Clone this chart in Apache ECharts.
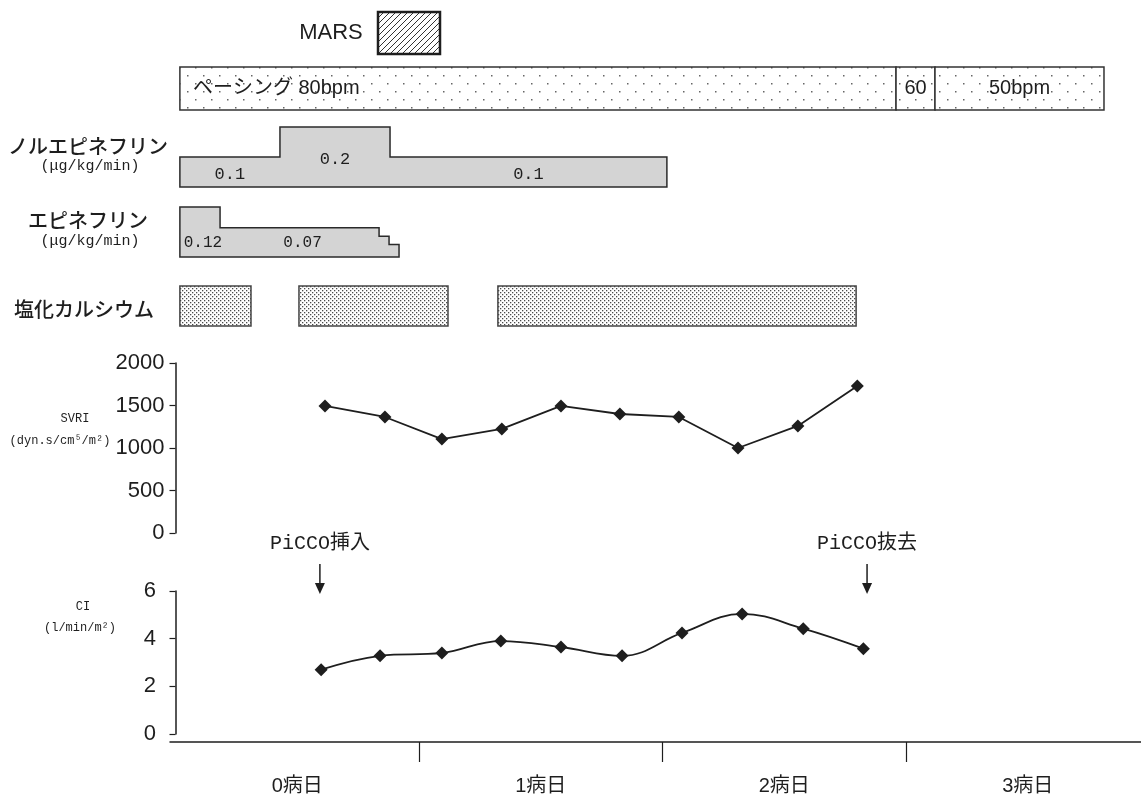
<!DOCTYPE html>
<html>
<head>
<meta charset="utf-8">
<script src="https://cdn.jsdelivr.net/npm/echarts@6/dist/echarts.min.js"></script>
<style>
  html, body { margin:0; padding:0; background:#fff; }
  #main { width:1141px; height:801px; }
</style>
</head>
<body>
<div id="main"></div>
<script>
// time in days (0 = start of 0病日)
var dayLabels = ['0病日', '1病日', '2病日', '3病日'];
var dayTicks = [1, 2, 3];

// pacing
var pacingStart = [0.018, 2.959, 3.119];
var pacingEnd = [2.959, 3.119, 3.813];
var pacingLabel = ['ペーシング 80bpm', '60', '50bpm'];

// noradrenaline (μg/kg/min)
var norStart = [0.018, 0.429, 0.881];
var norDose = [0.1, 0.2, 0.1];
var norStop = 2.018;
var norLabel = ['0.1', '0.2', '0.1'];

// adrenaline (μg/kg/min)
var epiStart = [0.018, 0.183, 0.836, 0.877];
var epiDose = [0.12, 0.07, 0.05, 0.03];
var epiStop = 0.918;
var epiLabel = ['0.12', '0.07', '', ''];

// calcium chloride
var caStart = [0.018, 0.507, 1.324];
var caEnd = [0.310, 1.119, 2.795];

// SVRI
var svriT = [0.614, 0.860, 1.094, 1.340, 1.583, 1.825, 2.067, 2.310, 2.556, 2.800];
var svri = [1495, 1365, 1105, 1225, 1495, 1400, 1365, 1000, 1260, 1730];

// CI
var ciT = [0.598, 0.840, 1.094, 1.336, 1.583, 1.834, 2.080, 2.327, 2.578, 2.825];
var ci = [2.7, 3.28, 3.4, 3.9, 3.65, 3.28, 4.24, 5.04, 4.42, 3.58];

// PiCCO events
var piccoT = [0.593, 2.840];
var piccoLabel = ['PiCCO挿入', 'PiCCO抜去'];

var JP = "'Noto Sans CJK JP', sans-serif";
var SANS = "'Liberation Sans', 'Noto Sans CJK JP', sans-serif";
var MONO = "'Liberation Mono', 'DejaVu Sans Mono', 'Noto Sans CJK JP', monospace";
var INK = '#1e1e1e';

function makePattern(size, draw) {
  var c = document.createElement('canvas');
  c.width = size; c.height = size;
  var ctx = c.getContext('2d');
  ctx.fillStyle = '#fff';
  ctx.fillRect(0, 0, size, size);
  draw(ctx);
  return { image: c, repeat: 'repeat' };
}
var sparseDots = makePattern(16, function (ctx) {
  ctx.fillStyle = '#666';
  ctx.fillRect(3, 3, 1.5, 1.5);
  ctx.fillRect(11, 11, 1.5, 1.5);
});
var denseDots = makePattern(4, function (ctx) {
  ctx.fillStyle = '#4a4a4a';
  ctx.fillRect(0, 0, 1.3, 1.3);
  ctx.fillRect(2, 2, 1.3, 1.3);
});
var hatch = makePattern(6, function (ctx) {
  ctx.strokeStyle = '#333';
  ctx.lineWidth = 1;
  ctx.beginPath();
  ctx.moveTo(0, 6); ctx.lineTo(6, 0);
  ctx.moveTo(-1, 1); ctx.lineTo(1, -1);
  ctx.moveTo(5, 7); ctx.lineTo(7, 5);
  ctx.stroke();
});

function txt(x, y, text, font, align) {
  return {
    type: 'text', x: x, y: y, silent: true,
    style: { text: text, font: font, fill: INK, align: align || 'center', verticalAlign: 'middle',
             textAlign: align || 'center', textVerticalAlign: 'middle' }
  };
}

function stepPolygon(api, starts, doses, stop) {
  var pts = [];
  for (var i = 0; i < starts.length; i++) {
    var e = i < starts.length - 1 ? starts[i + 1] : stop;
    pts.push(api.coord([starts[i], doses[i]]));
    pts.push(api.coord([e, doses[i]]));
  }
  pts.push(api.coord([stop, 0]));
  pts.push(api.coord([starts[0], 0]));
  return pts;
}

var XMAX = 3.965;
var hiddenX = function (g) {
  return { type: 'value', gridIndex: g, min: 0, max: XMAX, show: false };
};
var hiddenY = function (g, max) {
  return { type: 'value', gridIndex: g, min: 0, max: max, show: false };
};
function grid(top, height, left) {
  return { left: left || 175.5, right: 0, top: top, height: height,
           outerBoundsMode: 'none', containLabel: false };
}
var plainNum = function (v) { return String(v); };

var chart = echarts.init(document.getElementById('main'), null, { renderer: 'canvas' });

var option = {
  backgroundColor: '#fff',
  animation: false,
  grid: [
    grid(67, 43),      // pacing
    grid(127, 60),     // noradrenaline
    grid(207, 50),     // adrenaline
    grid(286, 40),     // calcium
    grid(363, 170),    // SVRI
    grid(591, 143, 170) // CI
  ],
  xAxis: [
    hiddenX(0), hiddenX(1), hiddenX(2), hiddenX(3), hiddenX(4),
    {
      type: 'value', gridIndex: 5, min: -0.0226, max: XMAX, offset: 8,
      axisLine: { show: true, onZero: false, lineStyle: { color: INK, width: 1.5 } },
      axisTick: { show: true, length: 20, customValues: dayTicks, lineStyle: { color: INK, width: 1.2 } },
      axisLabel: {
        customValues: [0.5, 1.5, 2.5, 3.5], margin: 34,
        formatter: function (v) { return dayLabels[Math.floor(v)]; },
        color: INK, fontSize: 20, fontFamily: SANS
      },
      splitLine: { show: false }
    }
  ],
  yAxis: [
    hiddenY(0, 1), hiddenY(1, 0.2), hiddenY(2, 0.12), hiddenY(3, 1),
    {
      type: 'value', gridIndex: 4, min: 0, max: 2000, interval: 500,
      axisLine: { show: true, lineStyle: { color: INK, width: 1.5 } },
      axisTick: { show: true, length: 6, lineStyle: { color: INK, width: 1.2 } },
      axisLabel: { color: INK, fontSize: 22, fontFamily: SANS, margin: 11, formatter: plainNum },
      splitLine: { show: false }
    },
    {
      type: 'value', gridIndex: 5, min: 0, max: 6, interval: 2,
      axisLine: { show: true, lineStyle: { color: INK, width: 1.5 } },
      axisTick: { show: true, length: 6, lineStyle: { color: INK, width: 1.2 } },
      axisLabel: { color: INK, fontSize: 22, fontFamily: SANS, margin: 14, formatter: plainNum },
      splitLine: { show: false }
    }
  ],
  graphic: [
    txt(331, 33, 'MARS', '22px ' + SANS),
    { type: 'rect', shape: { x: 378, y: 12, width: 62, height: 42 },
      style: { fill: hatch, stroke: INK, lineWidth: 2.5 } },
    txt(88, 146, 'ノルエピネフリン', '500 20px ' + JP),
    txt(90, 166, '(μg/kg/min)', '15px ' + MONO),
    txt(88, 220, 'エピネフリン', '500 20px ' + JP),
    txt(90, 241, '(μg/kg/min)', '15px ' + MONO),
    txt(84, 309, '塩化カルシウム', '500 20px ' + JP),
    txt(75, 419, 'SVRI', '12px ' + MONO),
    txt(60, 441, '(dyn.s/cm⁵/m²)', '12px ' + MONO),
    txt(83, 607, 'CI', '12px ' + MONO),
    txt(80, 628, '(l/min/m²)', '12px ' + MONO)
  ],
  series: [
    {
      type: 'custom', xAxisIndex: 0, yAxisIndex: 0,
      data: pacingStart.map(function (s, i) { return [s, pacingEnd[i], i]; }),
      renderItem: function (params, api) {
        var i = api.value(2);
        var a = api.coord([api.value(0), 1]);
        var b = api.coord([api.value(1), 0]);
        var left = i === 0;
        return {
          type: 'group',
          children: [
            { type: 'rect', shape: { x: a[0], y: a[1], width: b[0] - a[0], height: b[1] - a[1] },
              style: { fill: sparseDots, stroke: '#333', lineWidth: 1.5 } },
            { type: 'text', x: left ? a[0] + 13 : (a[0] + b[0]) / 2, y: (a[1] + b[1]) / 2,
              style: { text: pacingLabel[i], font: '20px ' + SANS, fill: INK,
                       align: left ? 'left' : 'center', verticalAlign: 'middle',
                       textAlign: left ? 'left' : 'center', textVerticalAlign: 'middle' } }
          ]
        };
      }
    },
    {
      type: 'custom', xAxisIndex: 1, yAxisIndex: 1,
      data: norStart.map(function (s, i) { return [s, norDose[i], i]; }),
      renderItem: function (params, api) {
        var i = params.dataIndex;
        var e = i < norStart.length - 1 ? norStart[i + 1] : norStop;
        var c = api.coord([(norStart[i] + e) / 2, norDose[i] / 2]);
        var kids = [];
        if (i === 0) {
          kids.push({ type: 'polygon', shape: { points: stepPolygon(api, norStart, norDose, norStop) },
                      style: { fill: '#d4d4d4', stroke: '#2a2a2a', lineWidth: 1.5 } });
        }
        kids.push({ type: 'text', x: c[0], y: c[1] + 2,
                    style: { text: norLabel[i], font: '17px ' + MONO, fill: INK,
                             align: 'center', verticalAlign: 'middle', textAlign: 'center', textVerticalAlign: 'middle' } });
        return { type: 'group', children: kids };
      }
    },
    {
      type: 'custom', xAxisIndex: 2, yAxisIndex: 2,
      data: epiStart.map(function (s, i) { return [s, epiDose[i], i]; }),
      renderItem: function (params, api) {
        var i = params.dataIndex;
        var e = i < epiStart.length - 1 ? epiStart[i + 1] : epiStop;
        var c = api.coord([(epiStart[i] + e) / 2, 0.035]);
        var kids = [];
        if (i === 0) {
          kids.push({ type: 'polygon', shape: { points: stepPolygon(api, epiStart, epiDose, epiStop) },
                      style: { fill: '#d4d4d4', stroke: '#2a2a2a', lineWidth: 1.5 } });
        }
        kids.push({ type: 'text', x: c[0] + 3, y: c[1],
                    style: { text: epiLabel[i], font: '16px ' + MONO, fill: INK,
                             align: 'center', verticalAlign: 'middle', textAlign: 'center', textVerticalAlign: 'middle' } });
        return { type: 'group', children: kids };
      }
    },
    {
      type: 'custom', xAxisIndex: 3, yAxisIndex: 3,
      data: caStart.map(function (s, i) { return [s, caEnd[i]]; }),
      renderItem: function (params, api) {
        var a = api.coord([api.value(0), 1]);
        var b = api.coord([api.value(1), 0]);
        return { type: 'rect', shape: { x: a[0], y: a[1], width: b[0] - a[0], height: b[1] - a[1] },
                 style: { fill: denseDots, stroke: '#444', lineWidth: 1.5 } };
      }
    },
    {
      type: 'line', xAxisIndex: 4, yAxisIndex: 4,
      data: svriT.map(function (t, i) { return [t, svri[i]]; }),
      symbol: 'diamond', symbolSize: 13,
      itemStyle: { color: INK },
      lineStyle: { color: INK, width: 1.8 }
    },
    {
      type: 'line', xAxisIndex: 5, yAxisIndex: 5,
      data: ciT.map(function (t, i) { return [t, ci[i]]; }),
      smooth: 0.4,
      symbol: 'diamond', symbolSize: 13,
      itemStyle: { color: INK },
      lineStyle: { color: INK, width: 1.8 }
    },
    {
      type: 'custom', xAxisIndex: 5, yAxisIndex: 5, clip: false,
      data: piccoT.map(function (t, i) { return [t, 6, i]; }),
      renderItem: function (params, api) {
        var p = api.coord([api.value(0), api.value(1)]);
        var x = p[0], tip = p[1] + 3;
        return {
          type: 'group',
          children: [
            { type: 'line', shape: { x1: x, y1: tip - 30, x2: x, y2: tip - 10 },
              style: { stroke: INK, lineWidth: 1.5 } },
            { type: 'polygon', shape: { points: [[x - 5, tip - 11], [x + 5, tip - 11], [x, tip]] },
              style: { fill: INK } },
            { type: 'text', x: x, y: tip - 50,
              style: { text: piccoLabel[api.value(2)], font: '20px ' + MONO, fill: INK,
                       align: 'center', verticalAlign: 'middle', textAlign: 'center', textVerticalAlign: 'middle' } }
          ]
        };
      }
    }
  ]
};
chart.setOption(option);
</script>
</body>
</html>
